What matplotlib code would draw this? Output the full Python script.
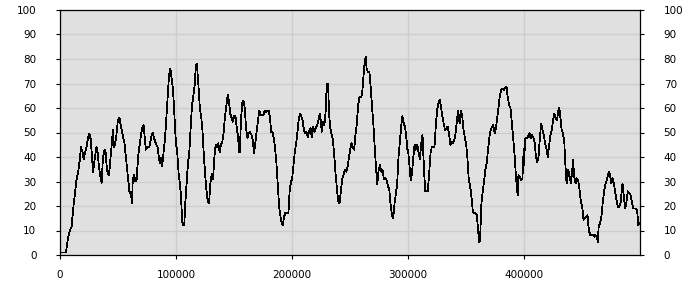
import matplotlib
matplotlib.use("Agg")
import matplotlib.pyplot as plt
import numpy as np

# samples, x in thousands, one list pair per 100k block
x_a = [0, 5.1, 5.7, 7.1, 8.5, 10.0, 11.4, 12.8, 14.2, 15.7, 17.1, 18.0, 19.4, 20.5, 21.4, 22.8,
       24.2, 25.1, 25.6, 26.2, 27.1, 28.5, 29.9, 31.3, 32.2, 33.6, 34.8, 35.9, 37.0, 38.5, 39.3,
       40.5, 41.9, 42.7, 44.2, 45.6, 46.4, 47.3, 48.4, 49.9, 51.3, 52.7, 54.1, 55.6, 57.0, 58.4,
       59.8, 61.3, 62.1, 62.7, 63.8, 65.0, 66.1, 67.3, 68.4, 69.8, 71.2, 72.1, 73.0, 74.1, 75.5,
       77.0, 78.4, 79.8, 81.2, 82.6, 84.1, 85.5, 86.4, 87.2, 88.1, 88.9, 90.6, 91.8, 92.9, 94.0,
       95.2, 96.0, 97.5, 99.2]
y_a = [1, 1, 3, 7.5, 10, 11.5, 19, 25, 30.6, 34, 39, 44, 42, 39, 41.5, 44,
       48, 49.4, 47.6, 49, 43, 34, 39, 44, 43, 36, 32, 29.5, 39.5, 43, 42,
       34.7, 32.4, 35, 43, 51, 44, 45, 48, 55, 56, 52, 49, 45.6, 39, 32,
       26, 24.5, 21, 30.6, 32.7, 30, 31, 40, 44, 49, 52.7, 53, 48, 43, 44,
       44, 47.6, 50, 47.6, 45.6, 44, 39, 37.4, 39.5, 36.3, 40, 48, 57, 64.6, 73.5,
       76, 72.8, 67, 52.4]

x_b = [100.0, 100.9, 102.3, 103.4, 104.3, 105.1, 105.7, 107.1, 108.0, 109.1, 110.3, 111.4, 112.5,
       113.7, 114.8, 116.0, 117.1, 118.0, 118.8, 120.0, 120.5, 121.7, 122.8, 123.9, 125.1, 126.2,
       127.4, 128.5, 129.6, 130.8, 131.9, 133.1, 134.2, 135.3, 136.5, 137.6, 138.8, 139.9, 141.0,
       142.2, 143.3, 144.5, 145.6, 146.7, 147.9, 149.0, 150.2, 151.3, 152.4, 153.6, 154.2, 155.0,
       155.9, 157.0, 158.1, 159.3, 160.4, 161.6, 162.7, 163.8, 165.0, 166.1, 167.3, 168.4, 169.5,
       170.7, 171.8, 173.0, 174.1, 175.2, 176.4, 177.5, 178.7, 179.8, 180.9, 182.1, 183.2, 184.4,
       185.5, 186.6, 187.8, 188.9, 190.1, 191.2, 192.1, 192.9, 194.0, 195.7, 196.9, 198.0, 199.2]
y_b = [45, 43, 33, 29, 24, 16, 12, 12, 21, 29, 37.4, 41.5, 51,
       60.5, 64.6, 68.7, 77, 78.2, 72.8, 64.6, 60, 56.5, 51, 41.5, 33, 26.5,
       21.8, 21, 29, 33, 31, 40, 45, 44, 45.6, 42, 45, 46, 49.7,
       56.5, 60.5, 65.3, 63, 57.8, 56, 54.4, 56.7, 56.5, 51.7, 48, 42, 42,
       53.7, 62, 63, 60, 51.7, 47.6, 49.7, 50.3, 49, 47, 41.5, 46, 50.3,
       55, 59, 57, 57, 57, 58.9, 58.5, 58.8, 59, 56.5, 50.3, 50, 47.6,
       43, 37.4, 28, 19.7, 15.6, 13, 12.2, 15, 17, 17, 17, 26.5, 30]

x_c = [200.0, 201.1, 202.3, 203.4, 204.6, 205.7, 206.8, 208.0, 209.1, 210.3, 211.4, 212.5, 213.7,
       214.8, 216.0, 217.1, 218.2, 219.4, 220.5, 221.7, 222.8, 223.9, 225.1, 225.6, 226.8, 227.9,
       229.1, 229.9, 230.8, 231.4, 231.9, 233.1, 234.2, 235.3, 236.5, 237.6, 238.8, 239.9, 241.0,
       242.2, 243.3, 244.5, 245.6, 246.7, 247.9, 249.0, 250.2, 251.3, 252.4, 253.6, 254.7, 255.9,
       257.0, 258.1, 259.3, 260.4, 261.6, 262.7, 263.6, 264.4, 265.6, 266.7, 267.8, 269.0, 270.1,
       271.3, 272.4, 273.5, 274.7, 275.8, 277.0, 278.1, 279.2, 280.4, 281.5, 282.7, 283.8, 284.9,
       286.1, 287.2, 288.4, 289.5, 290.6, 291.8, 292.9, 294.1, 295.2, 296.3, 297.5, 298.6, 299.8]
y_c = [30.6, 36, 41.5, 45, 49.7, 55, 57.8, 56.5, 55, 51, 49.7, 50.3, 48,
       50.7, 51.7, 48, 52.4, 50.3, 51.7, 53, 55, 57.8, 53.7, 50.3, 54.4, 53,
       59, 69.4, 70, 66, 57.8, 51.7, 49, 47, 40, 33, 26.5, 21.8, 21,
       26.5, 31, 32.7, 34.7, 34, 36, 39.5, 43, 45.6, 44, 43, 49, 53.7,
       61, 64.4, 64.4, 65.3, 72.8, 79, 81, 75.5, 74.8, 74.8, 68.7, 60.5, 53.7,
       44, 36, 29, 34.7, 36.7, 34, 34.7, 31, 31.6, 30.6, 28, 27.2, 21,
       16.3, 15, 21, 25, 28.6, 40, 45.6, 52.4, 56.7, 53.7, 52.4, 47.6, 41.5]

x_d = [300.0, 301.1, 302.3, 303.4, 304.6, 305.7, 306.8, 308.0, 309.1, 310.3, 311.4, 312.5, 313.7,
       314.8, 316.0, 317.1, 318.2, 319.4, 320.5, 321.7, 322.8, 323.9, 325.1, 326.2, 327.4, 328.5,
       329.6, 330.8, 331.9, 333.1, 334.2, 335.3, 336.5, 337.6, 338.8, 339.9, 341.0, 342.2, 343.3,
       344.5, 345.6, 346.7, 347.9, 349.0, 350.2, 351.3, 352.4, 353.6, 354.7, 355.9, 357.0, 358.1,
       359.3, 360.4, 361.3, 362.1, 363.3, 364.4, 365.6, 366.7, 367.8, 369.0, 370.1, 371.3, 372.4,
       373.5, 374.7, 375.8, 377.0, 378.1, 379.2, 380.4, 381.5, 382.7, 383.8, 384.9, 386.1, 387.2,
       388.4, 389.5, 390.6, 391.8, 392.9, 394.1, 394.6, 395.2, 396.3, 397.5, 398.6, 399.8]
y_d = [42.9, 37.4, 30.6, 33, 40, 45, 43, 45, 42, 39, 45.6, 49, 36,
       26, 26, 26, 33, 41.5, 44, 44, 44, 52.4, 59, 62, 63.3, 60.5,
       56.5, 53.7, 51, 51.7, 52.4, 49.7, 45, 46.3, 45.6, 47, 49.7, 55, 59,
       53.7, 59, 57, 51, 48, 45, 39, 30.6, 28, 23.8, 17.7, 17, 17,
       16.3, 10.2, 5.4, 6, 21, 26, 30, 34.7, 37.4, 43, 48, 51, 52.4,
       53, 49.7, 51.7, 56.5, 60.5, 65.3, 67.3, 68, 67.3, 68.4, 68.7, 64, 61.2,
       59.9, 53.7, 48, 41.5, 33, 26, 24.5, 32.7, 32, 30.6, 31, 43.5]

x_e = [400.0, 400.9, 401.7, 402.8, 404.0, 404.8, 405.7, 406.8, 408.0, 409.1, 410.3, 411.4, 412.5,
       413.7, 414.8, 416.0, 417.1, 418.2, 419.4, 420.5, 421.7, 422.8, 423.9, 425.1, 426.2, 427.4,
       428.5, 429.6, 430.5, 431.3, 432.5, 433.6, 434.8, 435.3, 436.5, 437.0, 438.2, 439.3, 440.5,
       441.6, 442.2, 443.3, 444.5, 445.6, 446.7, 447.9, 449.0, 450.2, 451.3, 452.4, 453.6, 454.7,
       455.9, 457.0, 458.1, 459.3, 460.4, 461.6, 462.7, 463.6, 464.4, 465.6, 466.7, 467.8, 469.0,
       470.1, 471.3, 472.4, 473.5, 474.7, 475.2, 476.4, 477.5, 478.7, 479.8, 480.9, 482.1, 483.2,
       484.4, 484.9, 486.1, 487.2, 488.4, 489.5, 490.6, 491.8, 492.9, 494.1, 495.2, 496.3, 497.5,
       498.6, 499.5]
y_e = [36.7, 47, 48, 47.6, 49, 49.7, 47.6, 49, 48, 46.3, 40, 38, 40,
       48, 53.7, 51, 49, 45.6, 43.5, 40, 45, 49, 51, 55, 57.8, 55.8,
       55, 59, 60, 56.5, 51, 49.7, 45.6, 40, 30.6, 29.2, 34.7, 32, 29.2,
       34.7, 38.8, 32, 29.2, 31.3, 30.6, 26.5, 21.8, 19.7, 14.3, 15, 15.6, 16.3,
       10.2, 8.2, 8.2, 8.2, 7.5, 8.2, 7.5, 5.4, 11.6, 13, 15.6, 21, 26,
       28.6, 30.6, 32.7, 34, 31.3, 29.2, 31.3, 29.2, 25.2, 22.4, 19.7, 19.7, 21,
       26.5, 29.2, 23.8, 19, 21.8, 26, 25.2, 24.5, 21.8, 19, 19, 19, 18.4,
       12.2, 13]

x_ticks = [0, 100000, 200000, 300000, 400000]
y_ticks = list(range(0, 101, 10))

xs = np.array(x_a + x_b + x_c + x_d + x_e) * 1000
ys = np.array(y_a + y_b + y_c + y_d + y_e)
assert len(xs) == len(ys)

plt.rcParams['font.family'] = 'DejaVu Sans'
fig = plt.figure(figsize=(7, 3), dpi=100)
ax = fig.add_axes([60 / 700, 45 / 300, 580 / 700, 245 / 300])
ax.set_facecolor('#e0e0e0')

ax.plot(xs, ys, color='black', lw=0.55, antialiased=False, zorder=3)

ax.set_xlim(0, 500000)
ax.set_ylim(0, 100)
ax.set_xticks(x_ticks)
ax.set_xticklabels([str(t) for t in x_ticks])
ax.set_yticks(y_ticks)
ax.set_yticklabels([str(t) for t in y_ticks])

ax.grid(True, color='#cdcdcd', lw=1.0)
ax.set_axisbelow(True)

ax.tick_params(axis='y', left=True, right=True, labelleft=True, labelright=True,
               direction='out', length=3, width=0.8, pad=14, labelsize=7.5)
ax.tick_params(axis='x', direction='out', length=3, width=0.8, pad=8, labelsize=7.5)
for s in ax.spines.values():
    s.set_linewidth(0.9)
    s.set_color('black')

fig.savefig('out.png', dpi=100, facecolor='white')
